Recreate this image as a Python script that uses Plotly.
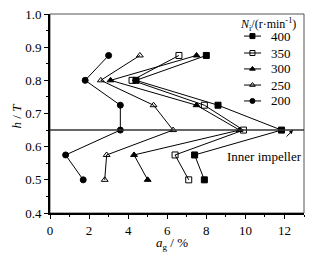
import plotly.graph_objects as go

h_levels = [0.875, 0.8, 0.725, 0.65, 0.575, 0.5]
ag_400 = [8.0, 4.4, 8.6, 11.85, 7.4, 7.9]
ag_350 = [6.6, 4.2, 7.9, 9.9, 6.4, 7.1]
ag_300 = [7.5, 3.1, 7.5, 9.7, 4.3, 5.0]
ag_250 = [4.6, 2.6, 5.3, 6.3, 2.9, 2.8]
ag_200 = [3.0, 1.8, 3.6, 3.6, 0.8, 1.7]
series_names = ["400", "350", "300", "250", "200"]
impeller_h = 0.65

symbols = ["square", "square-open", "triangle-up", "triangle-up-open", "circle"]
series_values = [ag_400, ag_350, ag_300, ag_250, ag_200]

font_family = "Liberation Serif, Times New Roman, serif"
fig = go.Figure()
for name, xs, sym in zip(series_names, series_values, symbols):
    fig.add_trace(go.Scatter(
        x=xs, y=h_levels, mode="lines+markers", name=name, showlegend=False,
        line=dict(color="black", width=1),
        marker=dict(symbol=sym, size=6, color="black",
                    line=dict(color="black", width=1)),
    ))

# manual legend (on hidden overlay axes in 0..1 units)
leg_y = [0.889, 0.804, 0.724, 0.643, 0.563]
for i, (name, sym) in enumerate(zip(series_names, symbols)):
    fig.add_shape(type="line", xref="paper", yref="paper",
                  x0=0.764, x1=0.831, y0=leg_y[i], y1=leg_y[i],
                  line=dict(color="black", width=1))
    fig.add_trace(go.Scatter(
        x=[0.797], y=[leg_y[i]], xaxis="x2", yaxis="y2", mode="markers",
        showlegend=False, hoverinfo="skip",
        marker=dict(symbol=sym, size=5, color="black",
                    line=dict(color="black", width=1)),
    ))
    fig.add_annotation(x=0.864, y=leg_y[i], xref="paper", yref="paper",
                       text=name, showarrow=False, xanchor="left", yanchor="middle",
                       font=dict(family=font_family, size=13, color="black"))
fig.add_annotation(x=0.858, y=0.945, xref="paper", yref="paper",
                   text="<i>N</i><sub>i</sub>/(r·min<sup>-1</sup>)",
                   showarrow=False, xanchor="center", yanchor="middle",
                   font=dict(family=font_family, size=12, color="black"))

# frame (top/right thin)
fig.add_shape(type="rect", xref="paper", yref="paper", x0=0, x1=1, y0=0, y1=1,
              line=dict(color="#555", width=1), layer="below")

fig.add_shape(type="line", xref="paper", x0=0, x1=1, yref="y",
              y0=impeller_h, y1=impeller_h,
              line=dict(color="#333", width=1.5))
fig.add_annotation(x=12.44, y=impeller_h, ax=12.03, ay=0.626,
                   axref="x", ayref="y", xref="x", yref="y",
                   text="", showarrow=True, arrowhead=2, arrowsize=0.8,
                   arrowwidth=1, arrowcolor="black")
fig.add_annotation(x=11.0, y=0.569, xref="x", yref="y", text="Inner impeller",
                   showarrow=False, xanchor="center", yanchor="middle",
                   font=dict(family=font_family, size=13, color="black"))

# axis titles
fig.add_annotation(x=-0.13, y=0.49, xref="paper", yref="paper",
                   text="<i>h</i> / <i>T</i>", textangle=-90, showarrow=False,
                   xanchor="center", yanchor="middle",
                   font=dict(family=font_family, size=13, color="black"))
fig.add_annotation(x=0.48, y=-0.151, xref="paper", yref="paper",
                   text="<i>a</i><sub>g</sub> / %", showarrow=False,
                   xanchor="center", yanchor="middle",
                   font=dict(family=font_family, size=13, color="black"))

fig.update_layout(
    width=305, height=245,
    margin=dict(l=42, r=9, t=6, b=40),
    paper_bgcolor="white", plot_bgcolor="white",
    font=dict(family=font_family, size=13, color="black"),
    showlegend=False,
    xaxis=dict(
        range=[0, 13], dtick=2, tick0=0, ticks="outside", ticklen=4,
        tickwidth=1, tickcolor="black", automargin=False,
        ticklabeloverflow="allow",
        tickfont=dict(family=font_family, size=13, color="black"),
        minor=dict(dtick=1, ticks="outside", ticklen=2, tickcolor="black"),
        showline=True, linecolor="black", linewidth=2, mirror=False,
        showgrid=False, zeroline=False,
    ),
    yaxis=dict(
        range=[0.4, 1.0], dtick=0.1, tick0=0.4, ticks="outside", ticklen=4,
        tickwidth=1, tickcolor="black", tickformat=".1f", automargin=False,
        ticklabeloverflow="allow",
        tickfont=dict(family=font_family, size=13, color="black"),
        minor=dict(dtick=0.05, ticks="outside", ticklen=2, tickcolor="black"),
        showline=True, linecolor="black", linewidth=2, mirror=False,
        showgrid=False, zeroline=False,
    ),
    xaxis2=dict(overlaying="x", range=[0, 1], visible=False, fixedrange=True),
    yaxis2=dict(overlaying="y", range=[0, 1], visible=False, fixedrange=True),
)

fig.write_html("out.html")
